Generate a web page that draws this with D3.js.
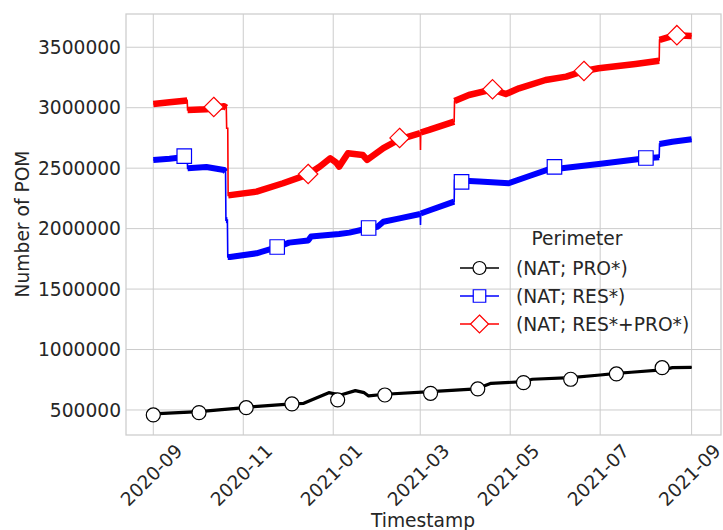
<!DOCTYPE html>
<html>
<head>
<meta charset="utf-8">
<script src="https://cdn.jsdelivr.net/npm/d3@7"></script>
<style>
  body { margin: 0; background: #fff; }
  text { font-family: "DejaVu Sans", sans-serif; fill: #262626; }
</style>
</head>
<body>
<script>
// series labels
var perimeters = ["(NAT; PRO*)", "(NAT; RES*)", "(NAT; RES*+PRO*)"];

// (NAT; PRO*)
var proDates = ["2020-09-01", "2020-10-02", "2020-10-31", "2020-11-08", "2020-12-04", "2020-12-12",
  "2020-12-29", "2021-01-06", "2021-01-16", "2021-01-22", "2021-01-25", "2021-02-05", "2021-03-08",
  "2021-04-08", "2021-04-18", "2021-05-10", "2021-05-16", "2021-06-11", "2021-07-01", "2021-07-12",
  "2021-07-22", "2021-08-12", "2021-08-19", "2021-09-01"];
var proValues = [467000, 486000, 517000, 527000, 550000, 555000,
  643000, 624000, 660000, 643000, 616000, 630000, 651000,
  674000, 720000, 734000, 754000, 767000, 789000, 803000,
  812000, 831000, 850000, 853000];
var proMarkDates = ["2020-09-01", "2020-10-02", "2020-11-03", "2020-12-04", "2021-01-04", "2021-02-05",
  "2021-03-08", "2021-04-09", "2021-05-10", "2021-06-11", "2021-07-12", "2021-08-12"];
var proMarkValues = [459000, 478000, 519000, 550000, 583000, 624000,
  638000, 674000, 726000, 754000, 798000, 850000];

// (NAT; RES*)
var resDates = ["2020-09-01", "2020-09-12", "2020-09-24T00", "2020-09-24T06", "2020-10-07", "2020-10-19T00",
  "2020-10-20T00", "2020-10-20T06", "2020-10-21T06", "2020-10-21T12", "2020-10-23", "2020-11-10",
  "2020-11-24", "2020-12-02", "2020-12-15", "2020-12-17", "2021-01-05", "2021-01-12", "2021-01-25",
  "2021-01-31", "2021-02-04", "2021-02-15", "2021-03-01T00", "2021-03-01T04", "2021-03-01T08",
  "2021-03-07", "2021-03-24T00", "2021-03-24T06", "2021-04-10", "2021-04-30", "2021-05-14",
  "2021-05-31", "2021-06-05", "2021-06-30", "2021-08-01", "2021-08-10T00", "2021-08-10T06",
  "2021-08-19", "2021-09-01"];
var resValues = [2568000, 2578000, 2595000, 2499000, 2510000, 2485000,
  2470000, 2070000, 2070000, 1765000, 1765000, 1796000,
  1846000, 1884000, 1901000, 1934000, 1956000, 1967000, 2003000,
  2016000, 2057000, 2085000, 2121000, 2030000, 2125000,
  2150000, 2223000, 2400000, 2389000, 2375000, 2435000,
  2507000, 2499000, 2535000, 2582000, 2590000, 2700000,
  2719000, 2739000];
var resMarkDates = ["2020-09-22", "2020-11-24", "2021-01-25", "2021-03-29", "2021-05-31", "2021-08-01"];
var resMarkValues = [2600000, 1848000, 2005000, 2386000, 2510000, 2584000];

// (NAT; RES*+PRO*)
var allDates = ["2020-09-01", "2020-09-12", "2020-09-24T00", "2020-09-24T06", "2020-10-07", "2020-10-19T00",
  "2020-10-20T12", "2020-10-20T18", "2020-10-21T12", "2020-10-21T18", "2020-11-10", "2020-11-28",
  "2020-12-15", "2020-12-23", "2020-12-30", "2021-01-03", "2021-01-05", "2021-01-11", "2021-01-21",
  "2021-01-24", "2021-02-04", "2021-02-15", "2021-03-01T00", "2021-03-01T04", "2021-03-01T08",
  "2021-03-07", "2021-03-24T00", "2021-03-24T06", "2021-04-03", "2021-04-19", "2021-04-28",
  "2021-05-07", "2021-05-25", "2021-06-08", "2021-06-20", "2021-06-30", "2021-07-25",
  "2021-08-10T00", "2021-08-10T06", "2021-08-21", "2021-09-01"];
var allValues = [3031000, 3045000, 3060000, 2981000, 2987000, 3012000,
  3000000, 2830000, 2830000, 2275000, 2306000, 2375000,
  2449000, 2513000, 2582000, 2546000, 2513000, 2623000, 2609000,
  2568000, 2665000, 2739000, 2789000, 2651000, 2795000,
  2816000, 2885000, 3055000, 3105000, 3152000, 3113000,
  3160000, 3229000, 3257000, 3304000, 3326000, 3362000,
  3389000, 3561000, 3600000, 3594000];
var allMarkDates = ["2020-10-12", "2020-12-15", "2021-02-15", "2021-04-19", "2021-06-20", "2021-08-22"];
var allMarkValues = [3006000, 2452000, 2750000, 3152000, 3304000, 3600000];

var yTicks = [500000, 1000000, 1500000, 2000000, 2500000, 3000000, 3500000];
var xTicks = ["2020-09-01", "2020-11-01", "2021-01-01", "2021-03-01", "2021-05-01", "2021-07-01", "2021-09-01"];

var width = 723, height = 530;
var parseDay = d3.utcParse("%Y-%m-%d"), parseHour = d3.utcParse("%Y-%m-%dT%H");
function parse(s) { return s.length > 10 ? parseHour(s) : parseDay(s); }
function zip(ds, vs) { return ds.map(function(d, i) { return {date: parse(d), value: vs[i]}; }); }

var x = d3.scaleUtc()
    .domain([parse("2020-08-13T12"), parse("2021-09-20T22")])
    .range([126, 721]);
var y = d3.scaleLinear()
    .domain([293000, 3775000])
    .range([435, 14]);

var svg = d3.select("body").append("svg")
    .attr("width", width)
    .attr("height", height);

// grid
svg.append("g").selectAll("line")
  .data(yTicks)
  .enter().append("line")
    .attr("x1", 126).attr("x2", 721)
    .attr("y1", function(d) { return y(d); })
    .attr("y2", function(d) { return y(d); })
    .attr("stroke", "#cccccc").attr("stroke-width", 1);
svg.append("g").selectAll("line")
  .data(xTicks)
  .enter().append("line")
    .attr("y1", 14).attr("y2", 435)
    .attr("x1", function(d) { return x(parse(d)); })
    .attr("x2", function(d) { return x(parse(d)); })
    .attr("stroke", "#cccccc").attr("stroke-width", 1);

// frame
svg.append("rect")
    .attr("x", 126).attr("y", 14)
    .attr("width", 595).attr("height", 421)
    .attr("fill", "none")
    .attr("stroke", "#cccccc")
    .attr("stroke-width", 1.25);

// tick labels
svg.append("g").selectAll("text")
  .data(yTicks)
  .enter().append("text")
    .attr("x", 121)
    .attr("y", function(d) { return y(d); })
    .attr("dy", "0.36em")
    .attr("text-anchor", "end")
    .attr("font-size", 18.67)
    .text(function(d) { return d; });

var fmt = d3.utcFormat("%Y-%m");
svg.append("g").selectAll("text")
  .data(xTicks)
  .enter().append("text")
    .attr("transform", function(d) { return "translate(" + (x(parse(d)) - 2) + ",475) rotate(-45)"; })
    .attr("dy", "0.36em")
    .attr("text-anchor", "middle")
    .attr("font-size", 18.67)
    .text(function(d) { return fmt(parse(d)); });

// axis labels
svg.append("text")
    .attr("x", 423).attr("y", 527)
    .attr("text-anchor", "middle")
    .attr("font-size", 18.67)
    .text("Timestamp");
svg.append("text")
    .attr("transform", "translate(29,224) rotate(-90)")
    .attr("text-anchor", "middle")
    .attr("font-size", 18.67)
    .text("Number of POM");

var line = d3.line()
    .x(function(d) { return x(d.date); })
    .y(function(d) { return y(d.value); });

// thin base line, thick noisy band where points are at least a day apart
function drawSeries(data, color, thick) {
  var g = svg.append("g");
  g.append("path")
      .attr("d", line(data))
      .attr("fill", "none")
      .attr("stroke", color)
      .attr("stroke-width", 1.6);
  var runs = [], run = [data[0]];
  for (var i = 1; i < data.length; i++) {
    if (data[i].date - data[i - 1].date >= 864e5) run.push(data[i]);
    else { if (run.length > 1) runs.push(run); run = [data[i]]; }
  }
  if (run.length > 1) runs.push(run);
  g.selectAll(".band")
    .data(runs)
    .enter().append("path")
      .attr("class", "band")
      .attr("d", line)
      .attr("fill", "none")
      .attr("stroke", color)
      .attr("stroke-width", thick)
      .attr("stroke-linejoin", "round");
  return g;
}

function diamond(r) { return "M0," + (-r) + "L" + r + ",0L0," + r + "L" + (-r) + ",0Z"; }
function square(s) { return "M" + (-s / 2) + "," + (-s / 2) + "h" + s + "v" + s + "h" + (-s) + "Z"; }
function circle(r) { return d3.symbol().type(d3.symbolCircle).size(Math.PI * r * r)(); }

var series = [
  {line: zip(proDates, proValues), marks: zip(proMarkDates, proMarkValues), color: "#000000", thick: 3.2, shape: circle(7), legendShape: circle(6.5)},
  {line: zip(resDates, resValues), marks: zip(resMarkDates, resMarkValues), color: "#0000ff", thick: 6, shape: square(14.5), legendShape: square(12.5)},
  {line: zip(allDates, allValues), marks: zip(allMarkDates, allMarkValues), color: "#ff0000", thick: 6.5, shape: diamond(9.7), legendShape: diamond(9)}
];

series.forEach(function(s) {
  var g = drawSeries(s.line, s.color, s.thick);
  g.selectAll(".mark")
    .data(s.marks)
    .enter().append("path")
      .attr("class", "mark")
      .attr("transform", function(d) { return "translate(" + x(d.date) + "," + y(d.value) + ")"; })
      .attr("d", s.shape)
      .attr("fill", "#ffffff")
      .attr("stroke", s.color)
      .attr("stroke-width", 1.2);
});

// legend
var legend = svg.append("g");
legend.append("text")
    .attr("x", 577).attr("y", 245)
    .attr("text-anchor", "middle")
    .attr("font-size", 18.67)
    .text("Perimeter");
var rows = legend.selectAll(".row")
  .data(series)
  .enter().append("g")
    .attr("class", "row")
    .attr("transform", function(d, i) { return "translate(0," + (268 + i * 28) + ")"; });
rows.append("line")
    .attr("x1", 460).attr("x2", 499)
    .attr("stroke", function(d) { return d.color; })
    .attr("stroke-width", 1.6);
rows.append("path")
    .attr("transform", "translate(479.5,0)")
    .attr("d", function(d) { return d.legendShape; })
    .attr("fill", "#ffffff")
    .attr("stroke", function(d) { return d.color; })
    .attr("stroke-width", 1.2);
rows.append("text")
    .attr("x", 516)
    .attr("dy", "0.36em")
    .attr("font-size", 18.67)
    .text(function(d, i) { return perimeters[i]; });
</script>
</body>
</html>
